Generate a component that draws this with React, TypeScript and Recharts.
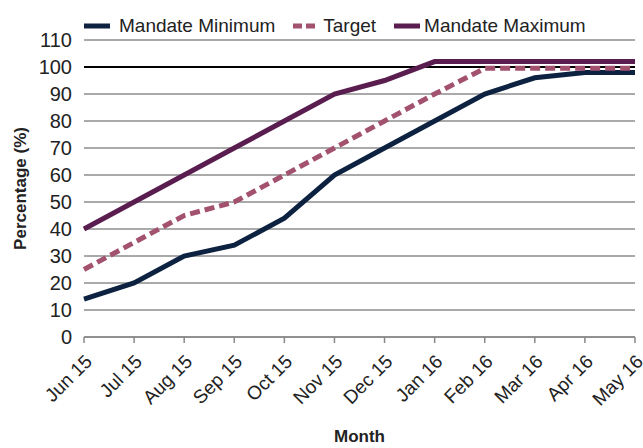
import React from "react";
import {
  LineChart,
  Line,
  XAxis,
  YAxis,
  CartesianGrid,
  Legend,
  ReferenceLine,
} from "recharts";

const months = [
  "Jun 15", "Jul 15", "Aug 15", "Sep 15", "Oct 15", "Nov 15",
  "Dec 15", "Jan 16", "Feb 16", "Mar 16", "Apr 16", "May 16",
];
const mandateMin = [14, 20, 30, 34, 44, 60, 70, 80, 90, 96, 98, 98];
const target = [25, 35, 45, 50, 60, 70, 80, 90, 99.5, 99.5, 99.5, 99.5];
const mandateMax = [40, 50, 60, 70, 80, 90, 95, 102, 102, 102, 102, 102];
const yTicks = [0, 10, 20, 30, 40, 50, 60, 70, 80, 90, 100, 110];
const seriesOrder = ["min", "target", "max"];

const data = months.map((m, i) => ({
  month: m,
  min: mandateMin[i],
  target: target[i],
  max: mandateMax[i],
}));

const FONT = "'Liberation Sans', Arial, Helvetica, sans-serif";
const C_MIN = "#0c2240";
const C_TARGET = "#a2516f";
const C_MAX = "#5a1d4f";

function XTick(props: any) {
  const { x, y, payload } = props;
  return (
    <g transform={`translate(${x},${y})`}>
      <text
        transform="rotate(-45)"
        textAnchor="end"
        x={-6}
        y={19}
        fill="#222"
        fontSize={19}
        fontFamily={FONT}
      >
        {payload.value}
      </text>
    </g>
  );
}

function LegendContent(props: any) {
  const items = [...(props.payload || [])].sort(
    (a: any, b: any) => seriesOrder.indexOf(a.dataKey) - seriesOrder.indexOf(b.dataKey)
  );
  return (
    <div
      style={{
        display: "flex",
        alignItems: "center",
        height: 20,
        lineHeight: "20px",
        fontFamily: FONT,
        fontSize: 19,
        color: "#222",
        whiteSpace: "nowrap",
      }}
    >
      {items.map((p: any) => (
        <div key={p.value} style={{ display: "flex", alignItems: "center", marginRight: 18 }}>
          <svg width={26} height={10} style={{ marginRight: p.dataKey === "min" ? 9 : 4 }}>
            <line
              x1={0}
              y1={5}
              x2={26}
              y2={5}
              stroke={p.color}
              strokeWidth={5}
              strokeDasharray={p.dataKey === "target" ? "9 4" : undefined}
            />
          </svg>
          <span>{p.value}</span>
        </div>
      ))}
    </div>
  );
}

export default function App() {
  return (
    <div style={{ position: "absolute", left: 0, top: 0, width: 643, height: 448, background: "#fff" }}>
      <LineChart
        width={643}
        height={448}
        data={data}
        margin={{ top: 20, right: 8, left: 0, bottom: 0 }}
      >
        <CartesianGrid horizontal vertical={false} stroke="#555" strokeWidth={1} />
        <XAxis
          dataKey="month"
          height={111}
          interval={0}
          tick={<XTick />}
          tickSize={6}
          stroke="#888"
          axisLine={{ stroke: "#888", strokeWidth: 1.5 }}
          tickLine={{ stroke: "#888", strokeWidth: 1.5 }}
          label={{
            value: "Month",
            position: "insideBottom",
            offset: 6,
            style: { fontFamily: FONT, fontSize: 17, fontWeight: "bold", fill: "#222" },
          }}
        />
        <YAxis
          width={84}
          domain={[0, 110]}
          ticks={yTicks}
          interval={0}
          axisLine={false}
          tickLine={false}
          tickSize={6}
          tickMargin={6}
          tick={{ fill: "#222", fontSize: 20, fontFamily: FONT }}
          label={{
            value: "Percentage (%)",
            angle: -90,
            position: "insideLeft",
            offset: 20,
            style: { textAnchor: "middle", fontFamily: FONT, fontSize: 17, fontWeight: "bold", fill: "#222" },
          }}
        />
        <ReferenceLine y={100} stroke="#000" strokeWidth={2} />
        <Legend
          verticalAlign="top"
          align="left"
          content={<LegendContent />}
          wrapperStyle={{ top: 16, left: 84, width: 550 }}
        />
        <Line
          type="linear"
          dataKey="min"
          name="Mandate Minimum"
          stroke={C_MIN}
          strokeWidth={5}
          dot={false}
          isAnimationActive={false}
        />
        <Line
          type="linear"
          dataKey="target"
          name="Target"
          stroke={C_TARGET}
          strokeWidth={5}
          strokeDasharray="10 5"
          dot={false}
          isAnimationActive={false}
        />
        <Line
          type="linear"
          dataKey="max"
          name="Mandate Maximum"
          stroke={C_MAX}
          strokeWidth={5}
          dot={false}
          isAnimationActive={false}
        />
      </LineChart>
    </div>
  );
}
